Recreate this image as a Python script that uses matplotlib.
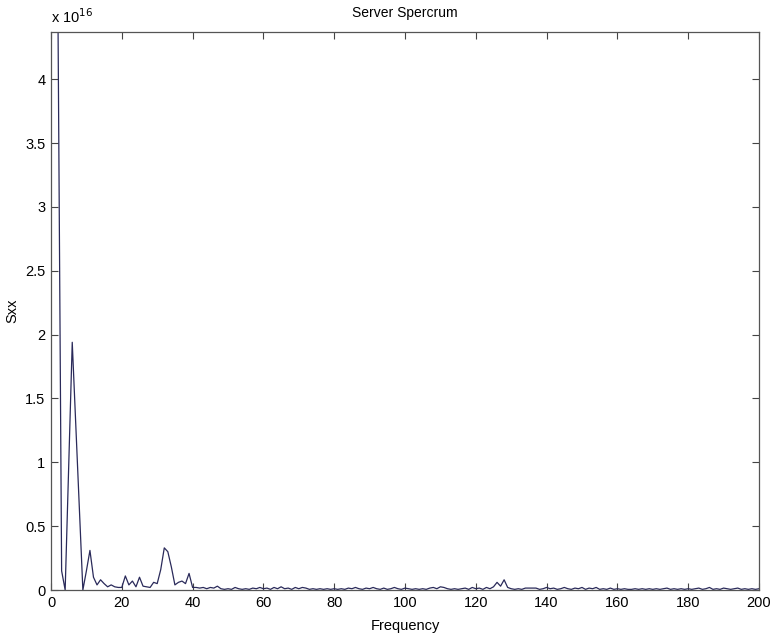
import numpy as np
import matplotlib
matplotlib.use('Agg')
import matplotlib.pyplot as plt
from matplotlib.ticker import FuncFormatter

plt.rcParams['font.family'] = ['Liberation Sans', 'DejaVu Sans']

# frequency bins (1 per unit) and Sxx values in units of 1e16
freq = np.arange(2, 201)
sxx = [
    4.37, 0.15, 0.00, 0.97, 1.94, 1.30, 0.65, 0.00, 0.15,            # 2-10
    0.31, 0.10, 0.04, 0.08, 0.05, 0.025, 0.04, 0.025, 0.02, 0.02,    # 11-20
    0.11, 0.04, 0.07, 0.025, 0.10, 0.03, 0.025, 0.02, 0.06, 0.05,    # 21-30
    0.16, 0.33, 0.30, 0.18, 0.04, 0.06, 0.07, 0.05, 0.13, 0.02,      # 31-40
    0.02, 0.015, 0.02, 0.01, 0.02, 0.015, 0.03, 0.01, 0.005, 0.01,   # 41-50
    0.005, 0.02, 0.01, 0.005, 0.01, 0.005, 0.015, 0.01, 0.02, 0.01,  # 51-60
    0.015, 0.005, 0.02, 0.01, 0.025, 0.01, 0.015, 0.005, 0.02, 0.01, # 61-70
    0.02, 0.015, 0.005, 0.01, 0.005, 0.01, 0.005, 0.01, 0.005, 0.01, # 71-80
    0.005, 0.01, 0.005, 0.015, 0.01, 0.02, 0.01, 0.005, 0.015, 0.01, # 81-90
    0.02, 0.01, 0.005, 0.015, 0.005, 0.01, 0.02, 0.01, 0.005, 0.015, # 91-100
    0.01, 0.005, 0.01, 0.005, 0.01, 0.005, 0.015, 0.02, 0.01, 0.025, # 101-110
    0.02, 0.01, 0.005, 0.01, 0.005, 0.01, 0.015, 0.005, 0.02, 0.01,  # 111-120
    0.015, 0.005, 0.02, 0.01, 0.025, 0.06, 0.03, 0.08, 0.02, 0.01,   # 121-130
    0.005, 0.01, 0.005, 0.015, 0.015, 0.015, 0.015, 0.005, 0.01, 0.02, # 131-140
    0.01, 0.015, 0.005, 0.01, 0.02, 0.01, 0.005, 0.015, 0.01, 0.02,  # 141-150
    0.005, 0.015, 0.01, 0.02, 0.005, 0.01, 0.005, 0.015, 0.005, 0.01, # 151-160
    0.005, 0.01, 0.005, 0.005, 0.01, 0.005, 0.01, 0.005, 0.01, 0.005, # 161-170
    0.01, 0.005, 0.01, 0.015, 0.005, 0.01, 0.005, 0.01, 0.005, 0.01, # 171-180
    0.005, 0.01, 0.015, 0.005, 0.01, 0.02, 0.005, 0.01, 0.005, 0.015, # 181-190
    0.01, 0.005, 0.01, 0.015, 0.005, 0.01, 0.005, 0.01, 0.005, 0.01, # 191-200
]

xticks = [0, 20, 40, 60, 80, 100, 120, 140, 160, 180, 200]
yticks = [0, 0.5, 1, 1.5, 2, 2.5, 3, 3.5, 4]

fig = plt.figure(figsize=(7.73, 6.35), dpi=100)
ax = fig.add_axes([51 / 773, 45 / 635, 708 / 773, 558 / 635])

ax.plot(freq, sxx, color='#2a2a5a', linewidth=0.9)

ax.set_xlim(0, 200)
ax.set_ylim(0, 4.37)
ax.set_xticks(xticks)
ax.set_yticks(yticks)
ax.yaxis.set_major_formatter(FuncFormatter(lambda v, p: '%g' % v))
ax.tick_params(direction='in', length=5, width=0.8, top=True, right=True,
               labelsize=10.5, color='#444444', pad=4)
for s in ax.spines.values():
    s.set_color('#555555')
    s.set_linewidth(0.9)

ax.set_title('Server Spercrum', fontsize=10, pad=11)
ax.set_xlabel('Frequency', fontsize=10.5, labelpad=7)
ax.set_ylabel('Sxx', fontsize=10.5, labelpad=4)
ax.text(0.0, 1.01, r'x 10$^{16}$', transform=ax.transAxes, fontsize=10.5,
        ha='left', va='bottom')

fig.savefig('out.png', dpi=100)
